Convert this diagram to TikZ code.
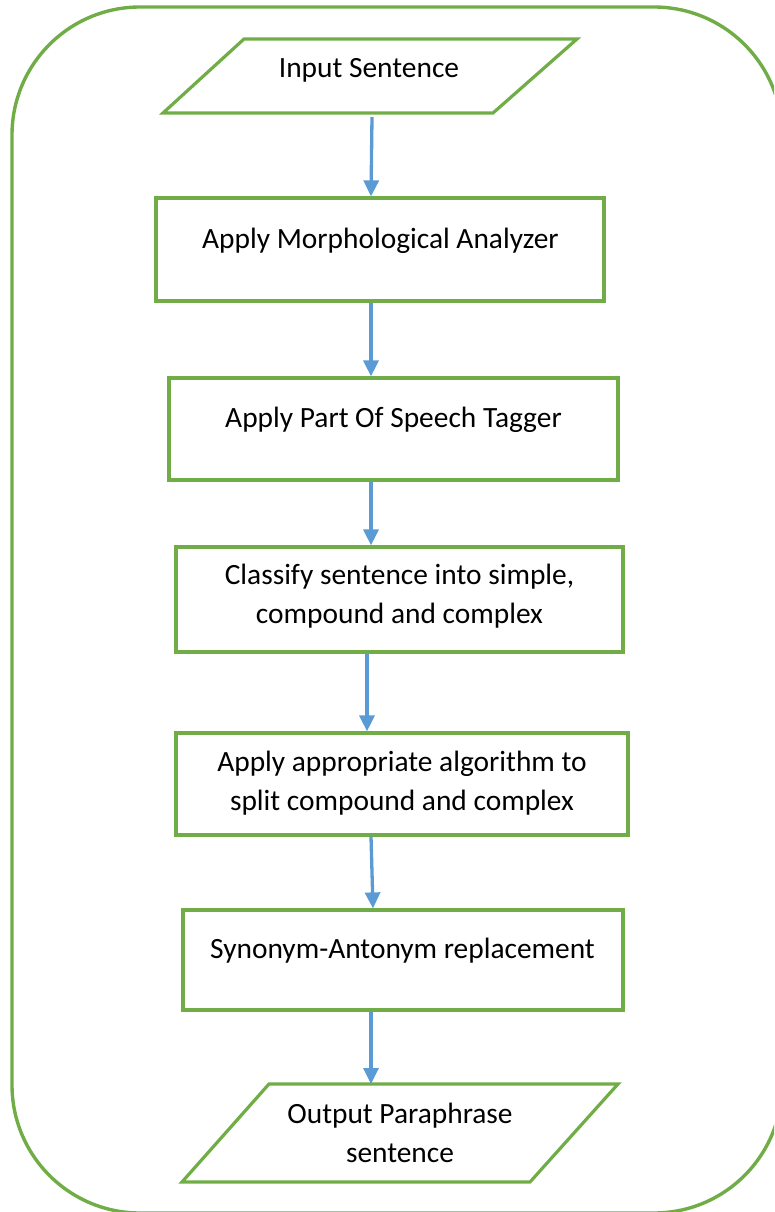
\documentclass[tikz,border=0pt]{standalone}
\usepackage{fontspec}
\setmainfont{Carlito}
\usetikzlibrary{arrows.meta}
\definecolor{grn}{RGB}{112,173,71}
\definecolor{blu}{RGB}{91,155,213}
\begin{document}
\begin{tikzpicture}[x=1pt,y=-1pt,
  box/.style={draw=grn, line width=3.2pt, inner sep=0pt},
  para/.style={draw=grn, line width=3.2pt, line join=miter},
  txt/.style={font=\fontsize{29.4}{38.5}\selectfont, align=center, inner sep=0pt, anchor=base},
  arr/.style={draw=blu, line width=3.3pt, -{Triangle[length=16pt,width=15pt]}}]
\useasboundingbox (0,0) rectangle (774,1212);
\clip (0,0) rectangle (774,1212);
\draw[grn, line width=3.4pt, rounded corners=128pt] (12,7) rectangle (782,1213);

% input parallelogram
\coordinate (inA) at (244,39);
\coordinate (inB) at (577,39);
\coordinate (inC) at (493,113);
\coordinate (inD) at (163,113);
\draw[para] (inA) -- (inB) -- (inC) -- (inD) -- cycle;
\coordinate (inS) at (372,117);

\node[box, minimum width=448pt, minimum height=103pt] (b1) at (380,249.5) {};
\node[box, minimum width=449pt, minimum height=102pt] (b2) at (393.5,429) {};
\node[box, minimum width=447pt, minimum height=105pt] (b3) at (399.5,599.5) {};
\node[box, minimum width=452pt, minimum height=102pt] (b4) at (402,784) {};
\node[box, minimum width=440pt, minimum height=100pt] (b5) at (403,960) {};

% output parallelogram
\coordinate (outA) at (269,1084);
\coordinate (outB) at (618,1084);
\coordinate (outC) at (530,1182);
\coordinate (outD) at (182,1182);
\draw[para] (outA) -- (outB) -- (outC) -- (outD) -- cycle;
\coordinate (outN) at (371,1084);

\node[txt] (tin) at (369,78) {Input Sentence};
\node[txt] (t1) at (380.5,248) {Apply Morphological Analyzer};
\node[txt] (t2) at (393.5,427) {Apply Part Of Speech Tagger};
\node[txt] (t3) at (399.5,623) {Classify sentence into simple,\\compound and complex};
\node[txt] (t4) at (402,810) {Apply appropriate algorithm to\\split compound and complex};
\node[txt] (t5) at (402.5,958) {Synonym-Antonym replacement};
\node[txt] (tout) at (400,1162) {Output Paraphrase\\sentence};

\draw[arr] (inS) -- ([xshift=-9pt]b1.north);
\draw[arr] ([xshift=-9pt]b1.south) -- ([xshift=-22.5pt]b2.north);
\draw[arr] ([xshift=-22.5pt]b2.south) -- ([xshift=-28.5pt]b3.north);
\draw[arr] ([xshift=-32.5pt]b3.south) -- ([xshift=-35pt]b4.north);
\draw[arr] ([xshift=-31pt]b4.south) -- ([xshift=-30pt]b5.north);
\draw[arr] ([xshift=-32pt]b5.south) -- (outN);
\end{tikzpicture}
\end{document}
